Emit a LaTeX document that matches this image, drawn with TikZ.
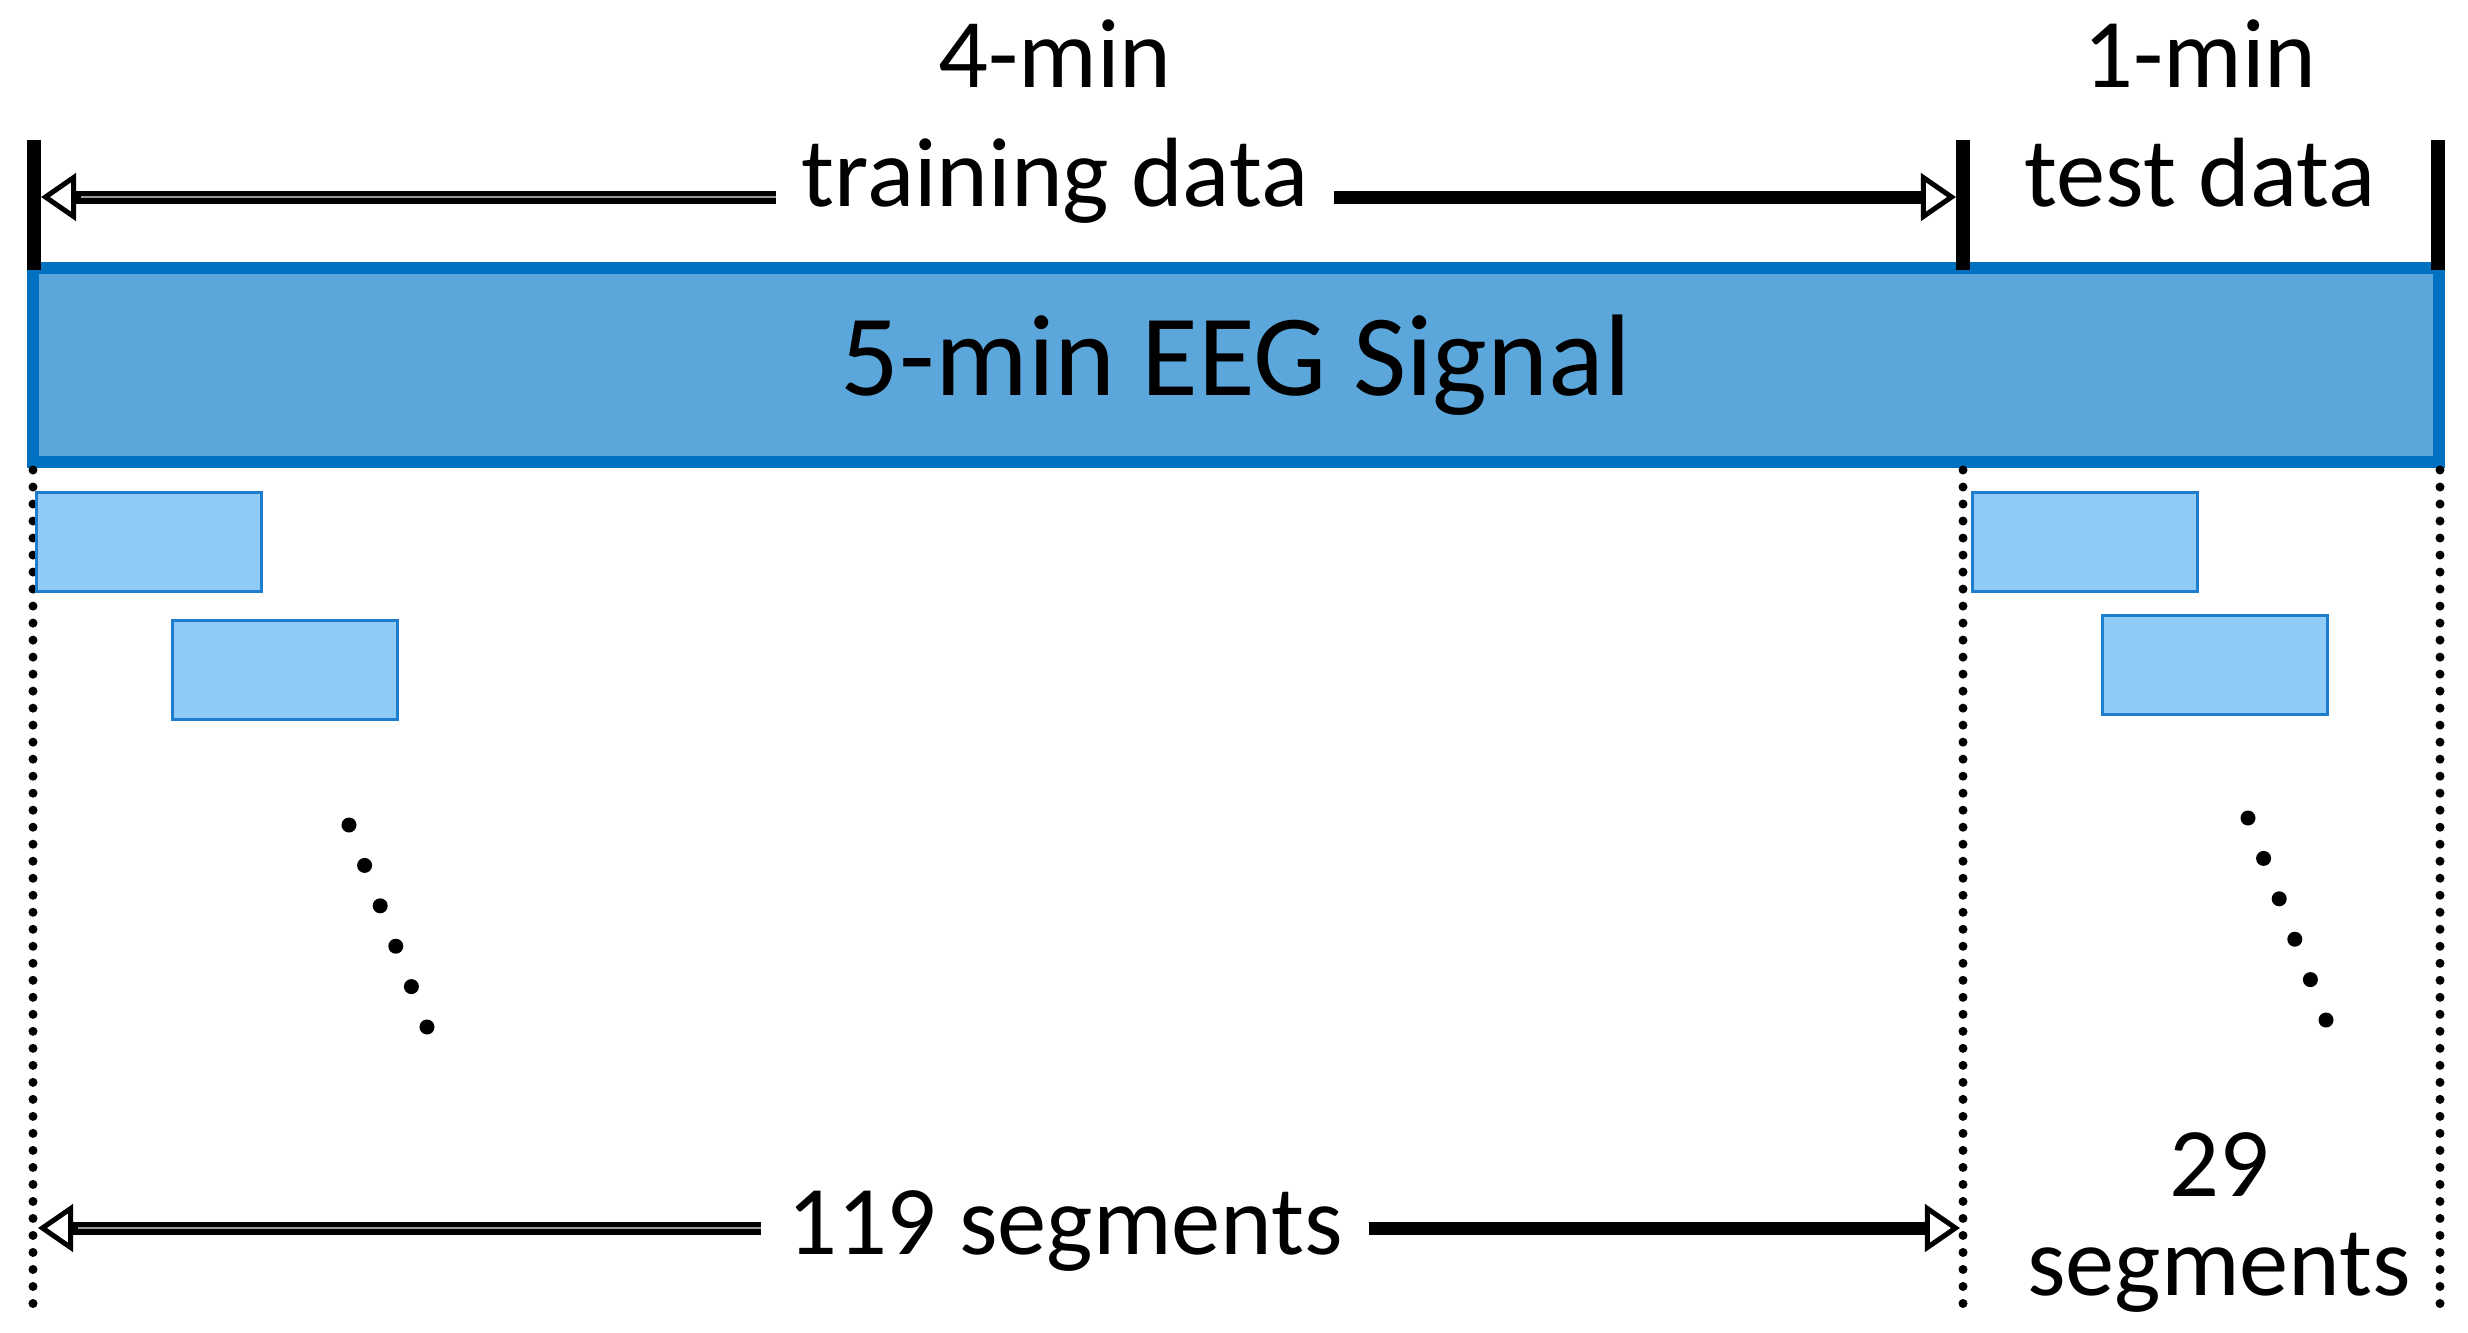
\documentclass[tikz,border=0pt]{standalone}
\usepackage{fontspec}
\setmainfont{Carlito}
\usepackage{tikz}
\usetikzlibrary{arrows.meta,positioning}

\definecolor{barfill}{RGB}{91,167,220}
\definecolor{barline}{RGB}{0,112,192}
\definecolor{segfill}{RGB}{143,203,245}
\definecolor{segline}{RGB}{30,125,205}

\tikzset{
	sigbar/.style={draw=barline, fill=barfill, line width=0.12cm, minimum width=24.04cm, minimum height=1.93cm, inner sep=0, font=\fontsize{33}{33}\selectfont},
	segbox/.style={draw=segline, fill=segfill, line width=0.03cm, minimum width=2.25cm, minimum height=0.99cm, inner sep=0},
	lbl/.style={inner xsep=0.25cm, inner ysep=0, anchor=base, font=\fontsize{28}{28}\selectfont},
	tickline/.style={line width=0.14cm},
	dotline/.style={line width=0.09cm, dash pattern=on 0pt off 0.17cm, line cap=round},
	dimarrow/.style={line width=0.13cm, -{Triangle[open, length=0.35cm, width=0.47cm, line width=0.05cm]}},
	hollow/.style={postaction={draw=white!60!black, line width=0.015cm, -, shorten >=0.4cm}}
}

\begin{document}
\begin{tikzpicture}[x=0.01cm,y=-0.01cm]
\useasboundingbox (0,0) rectangle (2468,1332);

\node[sigbar] (sig) at (1236,365) {5-min EEG Signal};

\foreach \x in {34,1963,2438}{
	\draw[tickline] (\x,140)--(\x,270);
}
\foreach \x in {33,1963,2440}{
	\draw[dotline] (\x,470)--(\x,1306);
}

\node[lbl] (fourmin) at (1055,87) {4-min};
\node[lbl] (train) at (1055,206) {training data};
\node[lbl] (onemin) at (2200,87) {1-min};
\node[lbl] (test) at (2200,206) {test data};

\coordinate (t0) at (41,197);
\coordinate (t1) at (1956,197);
\draw[dimarrow,hollow] (train.west |- t0)--(t0);
\draw[dimarrow] (train.east |- t1)--(t1);

\node[segbox] (s1) at (149,542) {};
\node[segbox] (s2) at (285,670) {};
\node[segbox] (s3) at (2085,542) {};
\node[segbox] (s4) at (2215,665) {};

\foreach \i in {0,...,5}{
	\fill (349+15.6*\i,825+40.4*\i) circle (0.075cm);
	\fill (2248+15.6*\i,818+40.4*\i) circle (0.075cm);
}

\node[lbl] (nseg) at (1065,1254) {119 segments};
\coordinate (b0) at (38,1228);
\coordinate (b1) at (1960,1228);
\draw[dimarrow,hollow] (nseg.west |- b0)--(b0);
\draw[dimarrow] (nseg.east |- b1)--(b1);

\node[lbl] (nine) at (2219,1196) {29};
\node[lbl] (seg) at (2219,1295) {segments};

\end{tikzpicture}
\end{document}
